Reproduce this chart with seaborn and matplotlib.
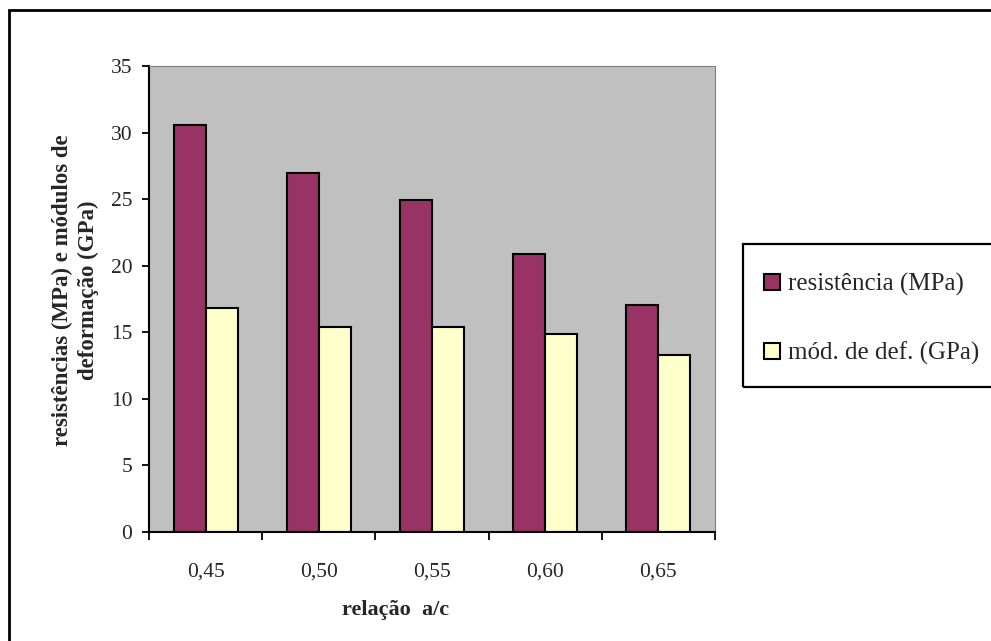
import matplotlib
matplotlib.use("Agg")
import matplotlib.pyplot as plt
import seaborn as sns
import pandas as pd
from matplotlib.patches import Rectangle

categories = ["0,45", "0,50", "0,55", "0,60", "0,65"]
resistencia = [30.6, 27.0, 24.9, 20.85, 17.05]
modulo = [16.8, 15.4, 15.4, 14.85, 13.3]
series_names = ["resistência (MPa)", "mód. de def. (GPa)"]
colors = ["#993366", "#FFFFCC"]

df = pd.DataFrame({
    "cat": categories * 2,
    "val": resistencia + modulo,
    "serie": [series_names[0]] * len(categories) + [series_names[1]] * len(categories),
})

sns.set_style("white")
plt.rcParams["font.family"] = ["Liberation Serif", "DejaVu Serif"]

fig = plt.figure(figsize=(9.91, 6.41), dpi=100)
ax = fig.add_axes([149 / 991, 1 - 532 / 641, (715 - 149) / 991, (532 - 66) / 641])
ax.set_facecolor("#C0C0C0")

sns.barplot(data=df, x="cat", y="val", hue="serie", palette=colors,
            width=0.566, edgecolor="black", linewidth=1.5, saturation=1,
            ax=ax, legend=True)

ax.set_ylim(0, 35)
ax.set_xlim(-0.5, len(categories) - 0.5)
ax.set_yticks(range(0, 36, 5))
ax.tick_params(axis="y", which="major", direction="out", length=5, width=1.3,
               color="black", pad=7, labelsize=15.5, left=True)
ax.set_xticks([i - 0.5 for i in range(len(categories) + 1)])
ax.set_xticklabels([])
ax.set_xticks(range(len(categories)), minor=True)
ax.set_xticklabels(categories, minor=True)
ax.tick_params(axis="x", which="major", direction="out", length=6, width=1.3,
               color="black", bottom=True)
ax.tick_params(axis="x", which="minor", length=0, pad=22, labelsize=15.5)
ax.set_xlabel("")
ax.set_ylabel("")

for s in ["left", "bottom"]:
    ax.spines[s].set_color("black")
    ax.spines[s].set_linewidth(1.5)
for s in ["top", "right"]:
    ax.spines[s].set_color("#808080")
    ax.spines[s].set_linewidth(0.8)

handles, labels = ax.get_legend_handles_labels()
ax.get_legend().remove()
fig.legend(handles, labels, loc="upper left",
           bbox_to_anchor=(764 / 991, 1 - 273 / 641), frameon=False,
           fontsize=18, handlelength=0.64, handleheight=0.64,
           handletextpad=0.3, labelspacing=1.83, borderpad=0, borderaxespad=0)

fig.patches.append(Rectangle((743 / 991, 1 - 387 / 641), 0.4, (387 - 244) / 641,
                             transform=fig.transFigure, fill=False,
                             edgecolor="black", linewidth=1.6))
fig.patches.append(Rectangle((9 / 991, -0.05), 1.0, 1.05 - 10 / 641,
                             transform=fig.transFigure, fill=False,
                             edgecolor="black", linewidth=2))

fig.text(75 / 991, 1 - 290 / 641,
         "resistências (MPa) e módulos de\ndeformação (GPa)",
         rotation=90, ha="center", va="center", multialignment="center",
         fontsize=16.5, fontweight="bold", linespacing=1.3)
fig.text(396 / 991, 1 - 610 / 641, "relação  a/c", ha="center", va="center",
         fontsize=16, fontweight="bold")

fig.savefig("out.png", dpi=100)
